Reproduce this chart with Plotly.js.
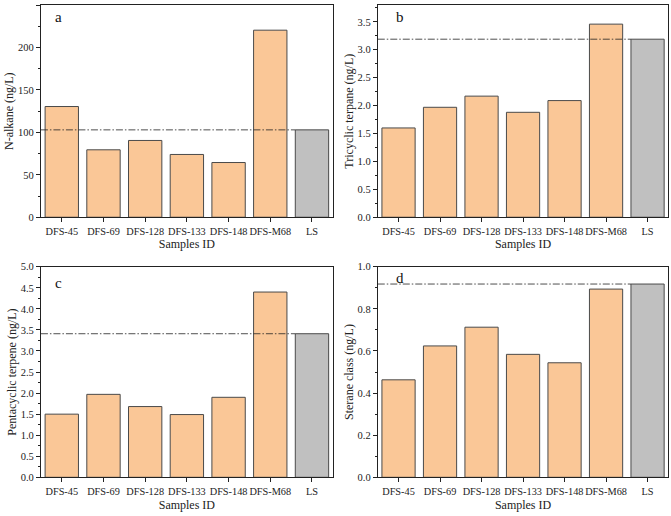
<!DOCTYPE html>
<html>
<head>
<meta charset="utf-8">
<script src="https://cdn.plot.ly/plotly-3.0.1.min.js"></script>
<style>
  html, body { margin: 0; padding: 0; background: #fff; }
  #chart { width: 671px; height: 516px; }
</style>
</head>
<body>
<div id="chart"></div>
<script>
// sample names on every x axis
const samples = ['DFS-45', 'DFS-69', 'DFS-128', 'DFS-133', 'DFS-148', 'DFS-M68', 'LS'];

// values (ng/L)
const nAlkane     = [130.5, 79.5, 90.5, 74, 64.5, 220.5, 103];
const tricyclic   = [1.60, 1.97, 2.17, 1.88, 2.09, 3.46, 3.19];
const pentacyclic = [1.50, 1.97, 1.68, 1.49, 1.90, 4.40, 3.41];
const sterane     = [0.463, 0.624, 0.713, 0.584, 0.544, 0.894, 0.918];

const yTitles = ['N-alkane (ng/L)', 'Tricyclic terpane (ng/L)', 'Pentacyclic terpene (ng/L)', 'Sterane class (ng/L)'];
const panelTags = ['a', 'b', 'c', 'd'];

const orange = '#FAC797';
const grey = '#C0C0C0';
const edge = '#4a4a4a';
const font = '"Liberation Serif", serif';

const panels = [
  {vals: nAlkane,     range: [0, 250], dtick: 50,  minor: 25,   xd: [0.061, 0.496], yd: [0.579, 0.990], tag: [0.041, 0.943]},
  {vals: tricyclic,   range: [0, 3.8], dtick: 0.5, minor: 0.25, xd: [0.563, 0.996], yd: [0.579, 0.990], tag: [0.055, 0.943]},
  {vals: pentacyclic, range: [0, 5],   dtick: 0.5, minor: 0.25, xd: [0.061, 0.496], yd: [0.075, 0.483], tag: [0.041, 0.922]},
  {vals: sterane,     range: [0, 1],   dtick: 0.2, minor: 0.1,  xd: [0.563, 0.996], yd: [0.075, 0.483], tag: [0.055, 0.946]}
];

let data = [];
let layout = {
  width: 671, height: 516,
  margin: {l: 0, r: 0, t: 0, b: 0},
  paper_bgcolor: '#fff', plot_bgcolor: '#fff',
  showlegend: false,
  bargap: 0.2,
  font: {family: font, color: '#222', size: 10.3},
  shapes: [],
  annotations: []
};

panels.forEach((p, i) => {
  const n = i === 0 ? '' : String(i + 1);
  const xa = 'x' + n, ya = 'y' + n;
  data.push({
    type: 'bar',
    x: samples,
    y: p.vals,
    xaxis: xa, yaxis: ya,
    marker: {
      color: samples.map(s => s === 'LS' ? grey : orange),
      line: {color: edge, width: 1}
    },
    hoverinfo: 'x+y'
  });

  layout['xaxis' + n] = {
    domain: p.xd, anchor: ya,
    type: 'category',
    range: [-0.5, 6.5],
    showline: true, linecolor: '#222', linewidth: 1, mirror: true,
    ticks: 'outside', ticklen: 4, tickcolor: '#222',
    tickangle: 0,
    showgrid: false, zeroline: false,
    tickfont: {family: font, size: 10.3, color: '#222'},
    title: {text: 'Samples ID', font: {family: font, size: 12, color: '#222'}, standoff: 4}
  };
  layout['yaxis' + n] = {
    domain: p.yd, anchor: xa,
    range: p.range,
    dtick: p.dtick, tick0: 0,
    tickformat: p.dtick < 1 ? '.1f' : 'd',
    showline: true, linecolor: '#222', linewidth: 1, mirror: true,
    ticks: 'outside', ticklen: 4, tickcolor: '#222',
    minor: {dtick: p.minor, ticks: 'outside', ticklen: 2, tickcolor: '#222', showgrid: false},
    showgrid: false, zeroline: false,
    tickfont: {family: font, size: 10.5, color: '#222'},
    title: {text: yTitles[i], font: {family: font, size: 12, color: '#222'}, standoff: 1}
  };

  // dash-dot reference line at the LS level, running up to the LS bar
  const ls = p.vals[samples.indexOf('LS')];
  layout.shapes.push({
    type: 'line', xref: xa, yref: ya,
    x0: -0.5, x1: samples.length - 1 - 0.4,
    y0: ls, y1: ls,
    line: {color: '#222', width: 0.8, dash: '7px,2px,1.5px,2px'},
    layer: 'above'
  });

  layout.annotations.push({
    text: panelTags[i],
    xref: xa + ' domain', yref: ya + ' domain',
    x: p.tag[0], y: p.tag[1],
    xanchor: 'left', yanchor: 'middle',
    showarrow: false,
    font: {family: font, size: 15, color: '#111'}
  });
});

Plotly.newPlot('chart', data, layout, {displayModeBar: false, staticPlot: true});
</script>
</body>
</html>
